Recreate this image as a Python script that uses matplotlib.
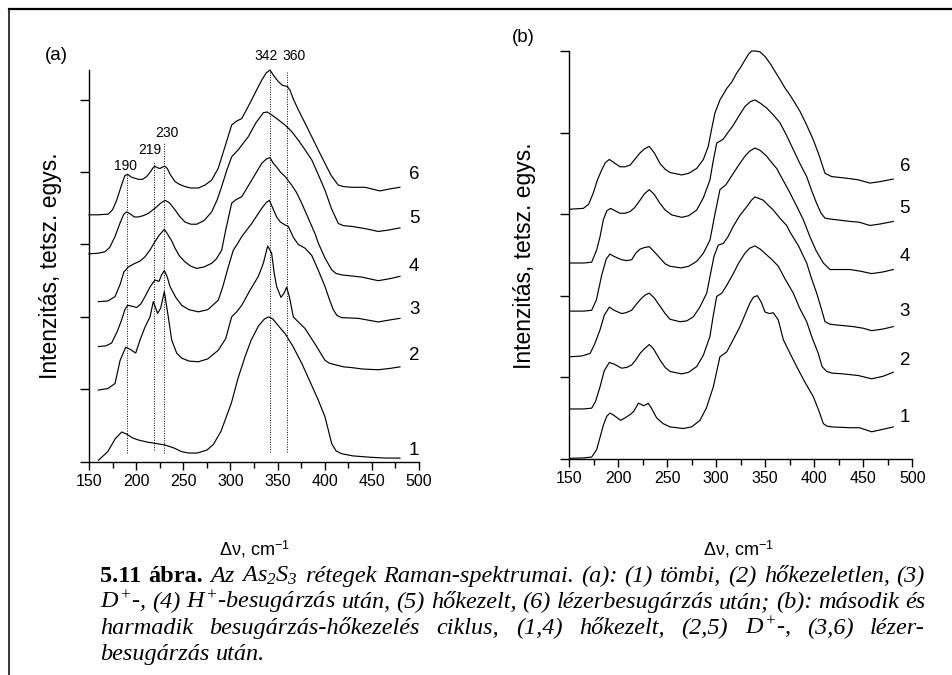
import matplotlib
matplotlib.use("Agg")
import matplotlib.pyplot as plt
from matplotlib.lines import Line2D
from matplotlib.ticker import MultipleLocator, NullFormatter

plt.rcParams['font.family'] = ['Liberation Sans', 'DejaVu Sans']
plt.rcParams['mathtext.fontset'] = 'custom'
plt.rcParams['mathtext.rm'] = 'Liberation Serif:italic'
plt.rcParams['mathtext.it'] = 'Liberation Serif:italic'
plt.rcParams['mathtext.bf'] = 'Liberation Serif:bold'
plt.rcParams['mathtext.sf'] = 'Liberation Sans'

# ---------------- panel (a): spectra, stacked ----------------
a1_x = [160, 170, 178, 184.7, 190, 196, 202.3, 212, 221.8, 230.6, 240, 248, 255.4, 265, 275, 282, 290,
        301, 308, 315.5, 322, 330, 336, 340.5, 345, 352, 357.9, 366, 375.6, 386, 393.2, 400.3, 407.4,
        412, 418, 430, 450, 465, 479.8]
a1_y = [0.02, 0.14, 0.32, 0.41, 0.38, 0.33, 0.30, 0.27, 0.25, 0.23, 0.19, 0.14, 0.12, 0.12, 0.16, 0.24, 0.42,
        0.81, 1.15, 1.45, 1.68, 1.88, 1.97, 2.00, 1.97, 1.86, 1.77, 1.60, 1.36, 1.06, 0.85, 0.62, 0.25,
        0.15, 0.11, 0.08, 0.06, 0.05, 0.05]

a2_x = [160, 170, 177.6, 183, 188.9, 194, 199.5, 204.1, 209.4, 214.7, 218.2, 222.8, 226, 229.9, 234.1, 237.7,
        243, 248.3, 256, 265.9, 276, 287.1, 295, 301.3, 306.6, 312, 320, 329.6, 334.9, 339.5, 343.7,
        346.5, 349, 353.6, 357, 359.6, 362.5, 366.7, 372, 379.1, 390, 400.3, 405, 410.9, 420, 428.6,
        440, 456.8, 470, 479.8]
a2_y = [0.99, 1.01, 1.08, 1.40, 1.58, 1.55, 1.50, 1.68, 1.86, 2.00, 2.21, 2.05, 2.12, 2.35, 2.00, 1.68,
        1.50, 1.43, 1.39, 1.38, 1.42, 1.54, 1.70, 2.00, 2.07, 2.16, 2.35, 2.56, 2.74, 2.98, 2.88,
        2.60, 2.42, 2.27, 2.33, 2.41, 2.28, 2.00, 1.93, 1.84, 1.62, 1.40, 1.36, 1.34, 1.31, 1.30,
        1.28, 1.27, 1.29, 1.31]

a3_x = [160, 168, 174, 180, 184.7, 188, 191, 195, 200.6, 205, 209.4, 215, 220, 224.2, 227, 229.9, 233,
        235.9, 242, 248.3, 256, 265.9, 276, 287.1, 292, 297.7, 303, 308, 312, 322.6, 333.2, 338, 341.3,
        345, 349, 353, 357.9, 361.4, 366.7, 372, 379, 386.2, 393, 400.3, 405, 409.1, 413, 418, 435.6,
        456.8, 470, 479.8]
a3_y = [1.59, 1.60, 1.64, 1.80, 1.96, 2.10, 2.16, 2.15, 2.13, 2.18, 2.28, 2.42, 2.51, 2.49, 2.58, 2.64, 2.55,
        2.42, 2.27, 2.16, 2.10, 2.07, 2.10, 2.23, 2.42, 2.69, 2.92, 3.02, 3.11, 3.29, 3.50, 3.58, 3.61,
        3.50, 3.38, 3.31, 3.27, 3.25, 3.10, 3.00, 2.95, 2.85, 2.65, 2.42, 2.24, 2.10, 2.02, 1.99, 1.98,
        1.93, 1.96, 1.98]

a4_x = [160, 170, 177.6, 183, 187, 191.7, 198.8, 204, 209.4, 215, 220, 224, 229.9, 233, 237.7, 241.2, 246,
        251.8, 258, 264.2, 272, 280.1, 285, 290.7, 295, 301.3, 306, 312, 322.6, 333.2, 338, 342, 345.5,
        349, 353, 357.9, 365, 370, 375.6, 382, 389.7, 393.2, 400, 407.4, 412, 418, 439.2, 456.8, 470,
        479.8]
a4_y = [2.21, 2.22, 2.28, 2.45, 2.62, 2.69, 2.74, 2.77, 2.83, 2.93, 3.04, 3.12, 3.21, 3.15, 3.05, 2.95, 2.84,
        2.76, 2.70, 2.67, 2.69, 2.74, 2.80, 2.92, 3.20, 3.57, 3.62, 3.66, 3.89, 4.12, 4.18, 4.20, 4.12,
        4.07, 4.00, 3.94, 3.82, 3.72, 3.57, 3.38, 3.15, 3.02, 2.82, 2.65, 2.60, 2.58, 2.55, 2.50, 2.53,
        2.56]

a5_x = [150, 160, 167, 172, 177.6, 183, 187, 190, 194, 198, 202.3, 208, 212.9, 220, 226, 230.6, 235, 241.2,
        246, 251.8, 258, 264.2, 272, 280.1, 286, 290.7, 296, 301.3, 308.4, 319, 327, 334.9, 339, 343.7,
        350, 357.9, 365, 372, 379, 386.2, 393, 400.3, 407, 414.4, 420, 428.6, 442.7, 456.8, 468, 479.8]
a5_y = [2.87, 2.88, 2.90, 2.96, 3.11, 3.30, 3.42, 3.45, 3.42, 3.38, 3.38, 3.40, 3.43, 3.50, 3.57, 3.61, 3.58,
        3.48, 3.39, 3.31, 3.28, 3.28, 3.33, 3.45, 3.62, 3.80, 4.02, 4.21, 4.31, 4.49, 4.68, 4.82, 4.83,
        4.79, 4.73, 4.65, 4.56, 4.44, 4.31, 4.17, 3.97, 3.75, 3.50, 3.29, 3.26, 3.25, 3.22, 3.18, 3.20,
        3.23]

a6_x = [150, 160, 170.5, 175, 179.3, 184, 188, 191, 195, 202.3, 207, 211.2, 215, 218, 220, 222.5, 225.3,
        228, 230.6, 233, 236, 241.2, 246, 251.8, 258, 265.9, 273, 280.1, 287, 294.2, 301.3, 306, 312,
        317, 322.6, 328, 333.2, 338, 342, 346, 350.8, 355, 357.9, 360.5, 363.2, 367, 372, 379, 386.2,
        393, 400.3, 407, 414.4, 420, 428.6, 442.7, 458.6, 470, 479.8]
a6_y = [3.41, 3.41, 3.42, 3.48, 3.61, 3.80, 3.95, 3.97, 3.93, 3.90, 3.90, 3.94, 4.00, 4.06, 4.08, 4.06, 4.05,
        4.07, 4.08, 4.05, 3.97, 3.87, 3.83, 3.80, 3.78, 3.78, 3.82, 3.89, 4.05, 4.35, 4.65, 4.70, 4.74,
        4.86, 5.00, 5.14, 5.27, 5.37, 5.41, 5.33, 5.25, 5.20, 5.19, 5.18, 5.13, 5.00, 4.86, 4.68, 4.49,
        4.31, 4.12, 3.95, 3.82, 3.80, 3.79, 3.79, 3.74, 3.77, 3.79]

# Raman band positions marked in panel (a)
bands = [190, 219, 230, 342, 360]
band_y0 = [0.12, 0.16, 0.12, 0.14, 0.14]
band_y1 = [3.96, 4.16, 4.42, 5.41, 5.38]

# ---------------- panel (b): spectra, stacked ----------------
b1_x = [151, 165, 173.1, 178.2, 185, 188.5, 191.8, 196, 202.7, 207, 212.2, 216, 220.7, 223, 225.7, 228,
        230.8, 234, 239.4, 246, 253, 266.5, 275, 283.5, 290, 297.1, 303.9, 310.8, 317, 324.3, 334.5, 338,
        342, 346, 349.8, 354, 358.3, 363.4, 368.5, 375, 382.1, 390, 399.1, 405, 409.3, 413, 417.8, 436.5,
        446, 458.6, 470, 480.6]
b1_y = [0.005, 0.01, 0.02, 0.11, 0.41, 0.52, 0.56, 0.53, 0.47, 0.50, 0.54, 0.58, 0.68, 0.67, 0.65, 0.66,
        0.68, 0.62, 0.50, 0.43, 0.39, 0.37, 0.39, 0.47, 0.62, 0.88, 1.25, 1.31, 1.45, 1.62, 1.91, 1.98,
        2.00, 1.92, 1.80, 1.78, 1.79, 1.70, 1.46, 1.30, 1.13, 0.95, 0.76, 0.58, 0.43, 0.40, 0.39, 0.38,
        0.38, 0.33, 0.36, 0.39]

b2_x = [151, 165, 173.1, 177, 181.6, 186, 191.1, 196, 203.7, 209, 213.9, 218, 222.4, 227, 231.9, 236, 242.8,
        248, 253, 264.9, 272, 280.2, 287, 293.7, 297, 300.6, 305.7, 311, 317.5, 323, 329.4, 334, 339.6,
        345, 351.5, 357, 363.4, 370, 378.7, 385, 392.3, 398, 404.2, 408, 412.7, 418, 429.7, 445, 458.6,
        470, 480.6]
b2_y = [0.61, 0.61, 0.62, 0.70, 0.88, 1.08, 1.18, 1.16, 1.11, 1.12, 1.15, 1.21, 1.29, 1.35, 1.40, 1.35, 1.21,
        1.12, 1.07, 1.04, 1.06, 1.13, 1.27, 1.50, 1.75, 1.99, 2.03, 2.13, 2.27, 2.40, 2.52, 2.58, 2.61,
        2.57, 2.50, 2.44, 2.36, 2.21, 2.03, 1.85, 1.68, 1.48, 1.29, 1.13, 1.07, 1.05, 1.04, 1.02, 0.98,
        1.01, 1.06]

b3_x = [151, 163, 171.4, 176, 181.6, 186, 191.1, 196, 203.7, 208, 213.9, 219, 224.1, 228, 231.9, 237, 242.8,
        248, 253, 263.2, 270, 276.7, 283, 290.4, 294, 297.8, 302.2, 307.3, 312, 317.5, 324, 331.2, 336,
        339.6, 344, 348.1, 353, 358.3, 365, 371.9, 375.3, 384, 392.3, 397, 402.5, 407, 411, 416, 422.9,
        439.8, 450, 458.6, 470, 480.6]
b3_y = [1.25, 1.26, 1.29, 1.40, 1.58, 1.76, 1.86, 1.82, 1.78, 1.79, 1.82, 1.90, 1.97, 2.01, 2.03, 1.97, 1.87,
        1.78, 1.71, 1.68, 1.69, 1.74, 1.85, 2.03, 2.25, 2.48, 2.62, 2.64, 2.72, 2.85, 2.98, 3.09, 3.17,
        3.21, 3.19, 3.17, 3.11, 3.05, 2.95, 2.86, 2.78, 2.61, 2.40, 2.22, 2.03, 1.85, 1.68, 1.65, 1.64,
        1.62, 1.60, 1.57, 1.59, 1.62]

b4_x = [151, 165, 173.1, 178, 183.3, 188, 191.8, 196, 203.7, 209, 213.9, 218, 222.4, 227, 231.9, 236, 242.8,
        248, 253, 264.2, 272, 280.2, 287, 293.7, 298.8, 303.9, 310, 317.5, 323, 329.4, 334, 339.6, 345,
        351.5, 356, 361.7, 368, 375.3, 382, 388.9, 395.7, 402, 409.3, 416.1, 436.5, 447, 458.6, 470,
        480.6]
b4_y = [1.81, 1.81, 1.82, 1.95, 2.25, 2.45, 2.51, 2.48, 2.44, 2.43, 2.44, 2.52, 2.57, 2.59, 2.60, 2.55, 2.46,
        2.39, 2.36, 2.34, 2.36, 2.42, 2.52, 2.68, 3.00, 3.30, 3.36, 3.50, 3.60, 3.71, 3.77, 3.81, 3.78,
        3.71, 3.64, 3.56, 3.42, 3.26, 3.10, 2.93, 2.72, 2.55, 2.40, 2.32, 2.32, 2.30, 2.27, 2.29, 2.32]

b5_x = [151, 165, 173.1, 178.2, 181.6, 185, 188.5, 192.5, 197, 202, 207, 212.2, 217, 222.4, 227, 231.9, 237,
        242.8, 248, 254.7, 264.9, 272, 280.2, 287, 293.7, 297, 300.6, 307.3, 312, 317.5, 323, 329.4, 335,
        339.6, 345, 351.5, 358, 365.1, 372, 378.7, 385, 392.3, 397, 402.5, 407, 411, 416, 422.9, 436.5,
        446, 456.9, 468, 480.6]
b5_y = [2.40, 2.40, 2.41, 2.56, 2.72, 2.93, 3.04, 3.07, 3.04, 3.01, 3.01, 3.03, 3.08, 3.17, 3.25, 3.30, 3.24,
        3.13, 3.05, 2.99, 2.96, 2.98, 3.05, 3.20, 3.42, 3.65, 3.87, 3.92, 4.00, 4.09, 4.20, 4.32, 4.38,
        4.40, 4.36, 4.30, 4.22, 4.12, 3.96, 3.79, 3.63, 3.46, 3.30, 3.13, 3.01, 2.95, 2.94, 2.93, 2.91,
        2.90, 2.86, 2.88, 2.91]

b6_x = [151, 164.6, 170, 174.8, 179, 183.3, 187, 191.1, 196, 202, 207, 212.2, 217, 222.4, 227, 231.9, 237,
        242.8, 248, 253, 264.9, 272, 280.2, 287, 292, 295, 298.8, 303.9, 310.8, 316, 321, 325, 329.4, 333,
        336.2, 340, 344.7, 350, 354.9, 360, 365.1, 370, 375.3, 380, 385.5, 392, 399.1, 405, 411, 417.8,
        433.1, 445, 456.9, 468, 480.6]
b6_y = [3.06, 3.07, 3.12, 3.26, 3.42, 3.54, 3.63, 3.67, 3.63, 3.58, 3.58, 3.60, 3.67, 3.75, 3.80, 3.83, 3.75,
        3.62, 3.55, 3.51, 3.48, 3.50, 3.56, 3.67, 3.83, 4.02, 4.24, 4.40, 4.54, 4.62, 4.73, 4.80, 4.89, 4.96,
        5.00, 5.00, 4.99, 4.93, 4.85, 4.75, 4.65, 4.55, 4.46, 4.37, 4.26, 4.10, 3.91, 3.72, 3.50, 3.46,
        3.44, 3.42, 3.38, 3.40, 3.43]

curve_names = ['1', '2', '3', '4', '5', '6']
a_label_y = [0.16, 1.46, 2.10, 2.69, 3.36, 3.96]
b_label_y = [0.50, 1.21, 1.80, 2.48, 3.07, 3.58]

x_ticks = [150, 200, 250, 300, 350, 400, 450, 500]
y_label = 'Intenzitás, tetsz. egys.'
x_label = 'Δν, cm$^{\\mathsf{-1}}$'

W, H = 952, 675
fig = plt.figure(figsize=(W / 100, H / 100), dpi=100)


def px_box(left, top, right, bottom):
    return [left / W, 1 - bottom / H, (right - left) / W, (bottom - top) / H]


def style_axes(ax, ytop):
    ax.set_xlim(150, 500)
    ax.set_ylim(0, ytop)
    for side in ('top', 'right'):
        ax.spines[side].set_visible(False)
    for side in ('left', 'bottom'):
        ax.spines[side].set_linewidth(1.0)
    ax.set_xticks(x_ticks)
    ax.xaxis.set_minor_locator(MultipleLocator(25))
    ax.set_yticks(range(0, 6))
    ax.yaxis.set_major_formatter(NullFormatter())
    ax.tick_params(axis='x', which='major', direction='out', length=5.5, width=1.0,
                   labelsize=11.5, pad=3)
    ax.tick_params(axis='x', which='minor', direction='out', length=4, width=1.0)
    ax.tick_params(axis='y', which='major', direction='out', length=6.5, width=1.0)
    ax.patch.set_alpha(0)


ax_a = fig.add_axes(px_box(89, 70, 419, 461.7))
style_axes(ax_a, 5.41)
ax_b = fig.add_axes(px_box(569, 51, 912.3, 458.7))
style_axes(ax_b, 5.0)

lw = 0.85
for xs, ys in [(a1_x, a1_y), (a2_x, a2_y), (a3_x, a3_y), (a4_x, a4_y), (a5_x, a5_y), (a6_x, a6_y)]:
    ax_a.plot(xs, ys, color='black', lw=lw, clip_on=False)
for xs, ys in [(b1_x, b1_y), (b2_x, b2_y), (b3_x, b3_y), (b4_x, b4_y), (b5_x, b5_y), (b6_x, b6_y)]:
    ax_b.plot(xs, ys, color='black', lw=lw, clip_on=False)

for xb, y0, y1 in zip(bands, band_y0, band_y1):
    ax_a.plot([xb, xb], [y0, y1], color='black', lw=0.7, ls=(0, (1, 1.5)), clip_on=False)

band_fs = 10
ax_a.text(190 - 1, 3.99, '190', fontsize=band_fs, ha='center', va='bottom')
ax_a.text(219 - 4, 4.21, '219', fontsize=band_fs, ha='center', va='bottom')
ax_a.text(230 + 2.5, 4.45, '230', fontsize=band_fs, ha='center', va='bottom')
ax_a.text(342 - 4, 5.50, '342', fontsize=band_fs, ha='center', va='bottom', clip_on=False)
ax_a.text(360 + 7, 5.50, '360', fontsize=band_fs, ha='center', va='bottom', clip_on=False)

for name, yl in zip(curve_names, a_label_y):
    ax_a.text(495, yl, name, fontsize=13.5, ha='center', va='center', clip_on=False)
for name, yl in zip(curve_names, b_label_y):
    ax_b.text(492.5, yl, name, fontsize=13.5, ha='center', va='center', clip_on=False)

fig.text(56.5 / W, 1 - 55 / H, '(a)', fontsize=13.5, ha='center', va='center')
fig.text(523.5 / W, 1 - 38 / H, '(b)', fontsize=13.5, ha='center', va='center')

fig.text(51 / W, 1 - 266 / H, y_label, fontsize=16.5, rotation=90, ha='center', va='center')
fig.text(524 / W, 1 - 256 / H, y_label, fontsize=16.5, rotation=90, ha='center', va='center')

fig.text(254 / W, 1 - 555 / H, x_label, fontsize=13, ha='center', va='baseline')
fig.text(738 / W, 1 - 555 / H, x_label, fontsize=13, ha='center', va='baseline')

# page frame
fig.add_artist(Line2D([8.5 / W, 1], [1 - 9 / H, 1 - 9 / H], color='black', lw=1.6,
                      transform=fig.transFigure))
fig.add_artist(Line2D([8.5 / W, 8.5 / W], [0, 1 - 9 / H], color='black', lw=1.1,
                      transform=fig.transFigure))

# ---------------- justified caption ----------------
CAP_FS = 17.5
B, I = ('bold', 'normal'), ('normal', 'italic')
caption_lines = [
    [('5.11', B), ('ábra.', B), ('Az', I), ('$\\mathit{As}_{2}\\mathit{S}_{3}$', I), ('rétegek', I),
     ('Raman-spektrumai.', I), ('(a):', I), ('(1)', I), ('tömbi,', I), ('(2)', I), ('hőkezeletlen,', I),
     ('(3)', I)],
    [('$\\mathit{D}^{+}$-,', I), ('(4)', I), ('$\\mathit{H}^{+}$-besugárzás', I), ('után,', I), ('(5)', I),
     ('hőkezelt,', I), ('(6)', I), ('lézerbesugárzás', I), ('után;', I), ('(b):', I), ('második', I),
     ('és', I)],
    [('harmadik', I), ('besugárzás-hőkezelés', I), ('ciklus,', I), ('(1,4)', I), ('hőkezelt,', I),
     ('(2,5)', I), ('$\\mathit{D}^{+}$-,', I), ('(3,6)', I), ('lézer-', I)],
    [('besugárzás', I), ('után.', I)],
]
caption_base = [582, 608, 634, 660]
cap_left, cap_right = 100, 925

renderer = fig.canvas.get_renderer()
space_t = fig.text(0, 0, 'a a', fontsize=CAP_FS, family='Liberation Serif', style='italic')
nospace_t = fig.text(0, 0, 'aa', fontsize=CAP_FS, family='Liberation Serif', style='italic')
space_w = space_t.get_window_extent(renderer).width - nospace_t.get_window_extent(renderer).width
space_t.remove()
nospace_t.remove()

for li, (tokens, yb) in enumerate(zip(caption_lines, caption_base)):
    texts = []
    for s, (weight, style) in tokens:
        t = fig.text(0, 1 - yb / H, s, fontsize=CAP_FS, family='Liberation Serif',
                     weight=weight, style=style, ha='left', va='baseline')
        texts.append(t)
    widths = [t.get_window_extent(renderer).width for t in texts]
    if li < len(caption_lines) - 1:
        gap = max(space_w * 0.6, (cap_right - cap_left - sum(widths)) / (len(texts) - 1))
    else:
        gap = space_w
    x = cap_left
    for t, w in zip(texts, widths):
        t.set_x(x / W)
        x += w + gap

fig.savefig('out.png', dpi=100)
